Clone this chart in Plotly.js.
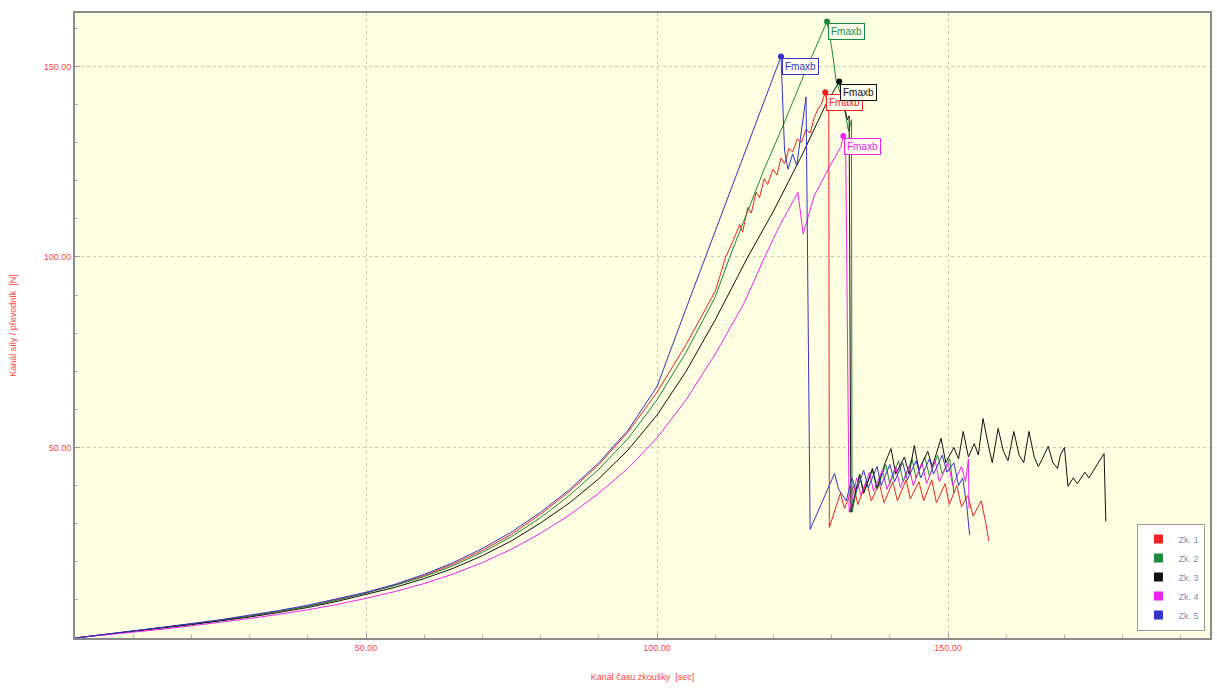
<!DOCTYPE html>
<html>
<head>
<meta charset="utf-8">
<script src="https://cdn.plot.ly/plotly-3.0.1.min.js"></script>
<style>
  html, body { margin: 0; padding: 0; background: #ffffff; }
  #chart { width: 1217px; height: 688px; }
</style>
</head>
<body>
<div id="chart"></div>
<script>
// ---------- data (time [sec], force [N]) ----------
const seriesNames = ["Zk. 1", "Zk. 2", "Zk. 3", "Zk. 4", "Zk. 5"];
const seriesColors = ["#ee2222", "#1a8a3a", "#111111", "#ee22ee", "#3434c8"];

const zk1X = [0, 5, 10, 15, 20, 25, 30, 35, 40, 45, 50, 55, 60, 65, 70, 75, 80, 85, 90, 95, 100, 105, 110, 111.8, 113, 114.2, 114.7, 115.6, 116.2, 117, 117.6, 118.4, 119, 119.9, 120.6, 121.3, 121.9, 122.7, 123.3, 124.1, 124.8, 125.6, 126.3, 127, 127.6, 128.2, 128.9, 129.3, 129.5, 129.6,
  131.5, 132.2, 133.8, 134.5, 136, 136.8, 138.2, 139, 140.5, 141.3, 142.8, 143.5, 145, 145.8, 147.2, 148, 149.5, 150.2, 151.5, 152.3, 153.4, 154.3, 155.7, 156.5, 157];
const zk1Y = [0, 0.9, 1.8, 2.7, 3.7, 4.7, 5.8, 7.0, 8.4, 10.0, 11.8, 13.9, 16.4, 19.4, 23, 27.2, 32.5, 38.5, 45.5, 54, 64.5, 77, 91, 100, 104, 108.5, 106.5, 113, 111.5, 117, 115.5, 120.5, 119, 123, 121.5, 126, 124.5, 128.5, 127.5, 131, 130, 133.5, 132.5, 136.5, 138.7, 140, 143.2, 139, 138, 29,
  38, 34, 40, 35, 41, 36, 40.5, 35.5, 41, 36, 41.5, 36.5, 41, 36, 41.5, 35.5, 40.5, 35, 40, 34.5, 37.4, 32, 36, 30, 25.4];

const zk2X = [0, 5, 10, 15, 20, 25, 30, 35, 40, 45, 50, 55, 60, 65, 70, 75, 80, 85, 90, 95, 100, 105, 110, 112.5, 118.4, 121.8, 125.3, 129.2, 130, 130.8, 131.5, 132.3, 132.9, 133.4, 133.5,
  134.8, 135.5, 137, 137.8, 139.3, 140, 141.5, 142.3, 143.8, 144.5, 146, 146.8, 148.2, 149, 150.3, 151];
const zk2Y = [0, 0.9, 1.8, 2.7, 3.6, 4.6, 5.7, 6.9, 8.3, 9.9, 11.8, 13.8, 16.1, 19, 22.5, 26.6, 31.6, 37.5, 44.3, 52.3, 62.5, 75, 89.5, 100, 123, 135, 148, 161.8, 155, 146, 143, 138, 133, 136, 33,
  42.5, 38, 44, 39, 45.5, 40.5, 46.5, 41, 47, 42, 47.5, 42.5, 48, 43, 47, 38];

const zk3X = [0, 5, 10, 15, 20, 25, 30, 35, 40, 45, 50, 55, 60, 65, 70, 75, 80, 85, 90, 95, 100, 105, 110, 115.6, 120, 123, 125, 129, 131.3, 131.8, 132.3, 132.7, 133, 133.3,
  134.8, 135.5, 137, 137.8, 139.2, 140.2, 141, 142.5, 143.3, 144.2, 145, 146.5, 147.3, 148.8, 149.6, 151, 151.8, 152.6, 153.5, 154.5, 155.2, 156, 157, 157.6, 158.6, 159.5, 160.3, 161.3, 162.2, 163, 163.9, 164.8, 165.5, 166.2, 167.2, 168, 168.8, 169.3, 170, 170.6, 171.5, 172.2, 173.5, 174.2, 175, 176.8, 177.1];
const zk3Y = [0, 0.85, 1.7, 2.6, 3.5, 4.5, 5.5, 6.7, 8.0, 9.6, 11.4, 13.3, 15.6, 18.3, 21.6, 25.5, 30.2, 35.5, 41.8, 49.3, 58.5, 70, 83.5, 100, 112, 121, 127, 140, 146, 142, 139, 136, 137, 33,
  43, 38, 44.5, 39.5, 46, 49.7, 43, 47.5, 43, 50.5, 44, 49, 45, 52.4, 46, 50, 47, 54.2, 47.5, 51, 48, 57.6, 50, 46, 55, 49, 46.5, 54.2, 48, 46, 54.2, 47.5, 45, 47, 50.3, 46, 44.5, 48, 50, 39.8, 42, 40.5, 43.5, 42, 44, 48.4, 30.6];

const zk4X = [0, 5, 10, 15, 20, 25, 30, 35, 40, 45, 50, 55, 60, 65, 70, 75, 80, 85, 90, 95, 100, 105, 110, 115, 118.5, 121, 124.2, 125.1, 127, 129.4, 131.6, 132, 132.4, 133,
  134.3, 135, 136.5, 137.2, 138.7, 139.5, 141, 141.8, 143.3, 144, 145.5, 146.3, 147.8, 148.5, 150, 150.8, 152.3, 153, 153.5, 153.6];
const zk4Y = [0, 0.75, 1.5, 2.3, 3.2, 4.1, 5.1, 6.2, 7.4, 8.8, 10.4, 12.2, 14.3, 16.8, 19.8, 23.3, 27.5, 32.3, 38, 44.5, 52.5, 62.5, 74.5, 88, 100, 108, 117, 106, 116, 123, 129, 131.7, 130, 33,
  42, 37.5, 43.5, 38.5, 44, 39, 45, 39.5, 45, 40, 46, 40.5, 46.5, 41, 46, 40, 45, 41, 47, 34];

const zk5X = [0, 5, 10, 15, 20, 25, 30, 35, 40, 45, 50, 55, 60, 65, 70, 75, 80, 85, 90, 95, 100, 105, 121.3, 121.9, 122.5, 123.3, 124, 125.6, 126.3,
  130.5, 131.2, 132.5, 133.5, 134.2, 135.5, 136.3, 137.8, 138.5, 140, 140.8, 142.2, 143, 144.5, 145.3, 146.8, 147.5, 149, 149.8, 151, 151.8, 152.5, 153.2, 153.5, 153.7];
const zk5Y = [0, 0.9, 1.8, 2.8, 3.8, 4.8, 6, 7.2, 8.6, 10.2, 12, 14.1, 16.7, 19.8, 23.5, 27.8, 33, 39, 46, 54.5, 66, 86.5, 152.6, 128, 123, 127, 124, 142, 28.5,
  43.2, 39, 36, 42, 38.5, 44, 39.5, 45, 40, 45.5, 41, 46, 41.5, 46.5, 42, 47, 43, 48, 43.5, 46, 40, 42, 35, 31, 27];

// Fmax points (peak markers + labels)
const peakX = [128.9, 129.2, 131.3, 132.0, 121.3];
const peakY = [143.2, 161.8, 146.0, 131.7, 152.6];
const peakLabel = "Fmaxb";

// axis ticks
const xTickVals = [50, 100, 150];
const xTickText = ["50.00", "100.00", "150.00"];
const xMinorVals = [10, 20, 30, 40, 60, 70, 80, 90, 110, 120, 130, 140, 160, 170, 180, 190];
const yTickVals = [50, 100, 150];
const yTickText = ["50.00", "100.00", "150.00"];
const yMinorVals = [10, 20, 30, 40, 60, 70, 80, 90, 110, 120, 130, 140, 160];

const xTitle = "Kanál času zkoušky  [sec]";
const yTitle = "Kanál síly / převodník  [N]";

// ---------- traces ----------
const xs = [zk1X, zk2X, zk3X, zk4X, zk5X];
const ys = [zk1Y, zk2Y, zk3Y, zk4Y, zk5Y];
const traces = [];
for (let i = 0; i < 5; i++) {
  traces.push({
    x: xs[i], y: ys[i], type: "scatter", mode: "lines",
    line: { color: seriesColors[i], width: 1 },
    showlegend: false, hoverinfo: "skip"
  });
}
// peak markers
for (let i = 0; i < 5; i++) {
  traces.push({
    x: [peakX[i]], y: [peakY[i]], type: "scatter", mode: "markers",
    marker: { color: seriesColors[i], size: 6 },
    showlegend: false, hoverinfo: "skip"
  });
}
// legend-only entries with square swatches
for (let i = 0; i < 5; i++) {
  traces.push({
    x: [null], y: [null], type: "scatter", mode: "markers",
    name: seriesNames[i],
    marker: { color: seriesColors[i], symbol: "square", size: 9 },
    showlegend: true
  });
}

const annotations = [];
for (let i = 0; i < 5; i++) {
  annotations.push({
    x: peakX[i], y: peakY[i], xref: "x", yref: "y",
    text: peakLabel, showarrow: false,
    xanchor: "left", yanchor: "top", xshift: 1, yshift: -2,
    font: { family: "Liberation Sans, Arial, sans-serif", size: 10, color: seriesColors[i] },
    bgcolor: "rgba(255,255,240,0.85)", bordercolor: seriesColors[i], borderwidth: 1, borderpad: 2
  });
}

const axisFont = { family: "Liberation Sans, Arial, sans-serif", size: 9, color: "#ff4444" };

const layout = {
  width: 1217, height: 688,
  margin: { l: 75, r: 7, t: 13, b: 50 },
  paper_bgcolor: "#ffffff",
  plot_bgcolor: "#ffffe2",
  showlegend: true,
  legend: {
    x: 0.996, y: 0.012, xanchor: "right", yanchor: "bottom",
    bgcolor: "#ffffff", bordercolor: "#999999", borderwidth: 1,
    font: { family: "Liberation Sans, Arial, sans-serif", size: 9, color: "#8090b8" },
    tracegroupgap: 0, itemwidth: 30
  },
  xaxis: {
    range: [0, 195], tickmode: "array", tickvals: xTickVals, ticktext: xTickText,
    ticks: "inside", ticklen: 5, tickcolor: "#999999",
    tickfont: axisFont,
    showgrid: true, gridcolor: "#c8c8b0", griddash: "dot", gridwidth: 1,
    zeroline: false, showline: true, mirror: true, linecolor: "#8a8a8a", linewidth: 2,
    minor: { tickmode: "array", tickvals: xMinorVals, ticks: "inside", ticklen: 3, tickcolor: "#aaaaaa", showgrid: false },
    title: { text: xTitle, font: axisFont, standoff: 22 }
  },
  yaxis: {
    range: [0, 164], tickmode: "array", tickvals: yTickVals, ticktext: yTickText,
    ticks: "inside", ticklen: 5, tickcolor: "#999999",
    tickfont: axisFont,
    showgrid: true, gridcolor: "#c8c8b0", griddash: "dot", gridwidth: 1,
    zeroline: false, showline: true, mirror: true, linecolor: "#8a8a8a", linewidth: 2,
    minor: { tickmode: "array", tickvals: yMinorVals, ticks: "inside", ticklen: 3, tickcolor: "#aaaaaa", showgrid: false },
    title: { text: yTitle, font: axisFont, standoff: 26 }
  },
  annotations: annotations
};

Plotly.newPlot("chart", traces, layout, { displayModeBar: false, staticPlot: true });
</script>
</body>
</html>
